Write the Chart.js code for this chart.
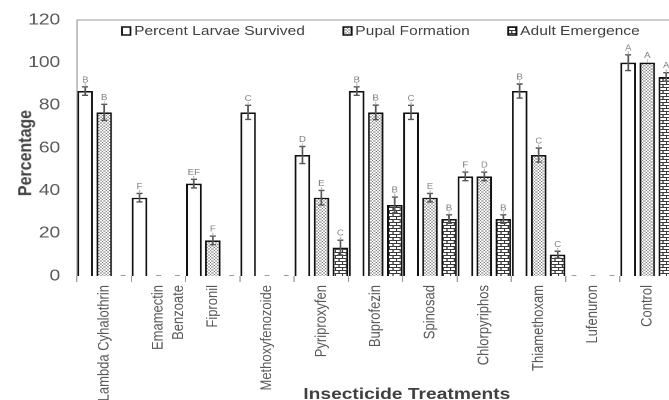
<!DOCTYPE html>
<html>
<head>
<meta charset="utf-8">
<script src="https://cdn.jsdelivr.net/npm/chart.js@4.4.0/dist/chart.umd.min.js"></script>
<style>
  html, body { margin: 0; padding: 0; background: #fff; overflow: hidden; }
  #wrap { width: 566px; height: 400px; transform: scaleX(1.2); transform-origin: 0 0; }
  #ytitle {
    position: absolute; left: 25px; top: 153px;
    font: bold 16px 'Liberation Sans', Arial, sans-serif; color: #404040;
    white-space: nowrap;
    transform: translate(-50%, -50%) scaleX(1.2) rotate(-90deg);
  }
</style>
</head>
<body>
<div id="wrap"><canvas id="chart"></canvas></div>
<div id="ytitle">Percentage</div>
<script>
const categories = [
  "Lambda Cyhalothrin", ["Emamectin", "Benzoate"], "Fipronil", "Methoxyfenozoide",
  "Pyriproxyfen", "Buprofezin", "Spinosad", "Chlorpyriphos", "Thiamethoxam",
  "Lufenuron", "Control"
];
const yTicks = [0, 20, 40, 60, 80, 100, 120];

const larvae = [86.7, 36.7, 43.3, 76.7, 56.7, 86.7, 76.7, 46.7, 86.7, 0, 100];
const pupal = [76.7, 0, 16.7, 0, 36.7, 76.7, 36.7, 46.7, 56.7, 0, 100];
const adult = [0, 0, 0, 0, 13.3, 33.3, 26.7, 26.7, 10, 0, 93.3];

const larvaeErr = [2, 2, 2, 3.3, 4, 2, 3.3, 2, 3.3, 0, 3.7];
const pupalErr = [3.8, 0, 2, 0, 3.4, 3.4, 2, 2, 3.3, 0, 0];
const adultErr = [0, 0, 0, 0, 3.5, 3.7, 2, 2, 1.6, 0, 2];

const larvaeLetters = ["B", "F", "EF", "C", "D", "B", "C", "F", "B", "", "A"];
const pupalLetters = ["B", "", "F", "", "E", "B", "E", "D", "C", "", "A"];
const adultLetters = ["", "", "", "", "C", "B", "B", "B", "C", "", "A"];

const FONT = "'Liberation Sans', Arial, sans-serif";

// fill patterns, drawn at double resolution
function makePattern(w, h, draw) {
  const c = document.createElement("canvas");
  c.width = w;
  c.height = h;
  const g = c.getContext("2d");
  g.fillStyle = "#fff";
  g.fillRect(0, 0, w, h);
  draw(g);
  const p = g.createPattern(c, "repeat");
  p.setTransform(new DOMMatrix().scale(0.5));
  return p;
}

const hatch = makePattern(6, 6, (g) => {
  g.fillStyle = "#7a7a7a";
  for (let i = 0; i < 6; i++) {
    g.fillRect(i, i, 1, 1);
    g.fillRect(5 - i, i, 1, 1);
  }
});

const brick = makePattern(12, 12, (g) => {
  g.fillStyle = "#3a3a3a";
  g.fillRect(0, 0, 12, 2);
  g.fillRect(0, 6, 12, 2);
  g.fillRect(0, 0, 2, 6);
  g.fillRect(6, 6, 2, 6);
});

const legendItems = [
  { label: "Percent Larvae Survived", fill: "#fff" },
  { label: "Pupal Formation", fill: hatch },
  { label: "Adult Emergence", fill: brick },
];

const extras = {
  id: "extras",
  afterDatasetsDraw(chart) {
    const ctx = chart.ctx;
    const area = chart.chartArea;
    const y = chart.scales.y;
    ctx.save();

    // plot frame (top + left)
    ctx.strokeStyle = "#9a9a9a";
    ctx.lineWidth = 1;
    ctx.beginPath();
    ctx.moveTo(area.left, area.bottom);
    ctx.lineTo(area.left, area.top);
    ctx.lineTo(area.right, area.top);
    ctx.stroke();

    chart.data.datasets.forEach((ds, di) => {
      const meta = chart.getDatasetMeta(di);
      meta.data.forEach((bar, i) => {
        const v = ds.data[i];
        if (v === 0) {
          // zero bars show as a short grey dash
          ctx.strokeStyle = "#9a9a9a";
          ctx.lineWidth = 1;
          ctx.beginPath();
          ctx.moveTo(bar.x - 2, area.bottom - 0.5);
          ctx.lineTo(bar.x + 2, area.bottom - 0.5);
          ctx.stroke();
          return;
        }
        const err = ds.errors[i];
        const top = y.getPixelForValue(v + err);
        const bot = y.getPixelForValue(v - err);
        if (err > 0) {
          ctx.strokeStyle = "#555";
          ctx.lineWidth = 1.4;
          ctx.beginPath();
          ctx.moveTo(bar.x, top);
          ctx.lineTo(bar.x, bot);
          ctx.moveTo(bar.x - 2.5, top);
          ctx.lineTo(bar.x + 2.5, top);
          ctx.moveTo(bar.x - 2.5, bot);
          ctx.lineTo(bar.x + 2.5, bot);
          ctx.stroke();
        }
        const letter = ds.letters[i];
        if (letter) {
          ctx.strokeStyle = "#b0b0b0";
          ctx.lineWidth = 0.8;
          ctx.beginPath();
          ctx.moveTo(bar.x, top);
          ctx.lineTo(bar.x, top - 3.5);
          ctx.stroke();
          ctx.fillStyle = "#808080";
          ctx.font = "8px " + FONT;
          ctx.textAlign = "center";
          ctx.textBaseline = "alphabetic";
          ctx.fillText(letter, bar.x, top - 4.5);
        }
      });
    });

    // legend inside plot
    ctx.font = "13px " + FONT;
    ctx.textAlign = "left";
    ctx.textBaseline = "middle";
    let lx = area.left + 37.5;
    const ly = area.top + 11;
    legendItems.forEach((item) => {
      ctx.fillStyle = item.fill;
      ctx.fillRect(lx, ly - 4, 7, 8);
      ctx.strokeStyle = "#111";
      ctx.lineWidth = 1.5;
      ctx.strokeRect(lx, ly - 4, 7, 8);
      ctx.fillStyle = "#404040";
      ctx.fillText(item.label, lx + 10, ly + 0.5);
      lx += 10 + ctx.measureText(item.label).width + 32;
    });

    // x axis title
    ctx.fillStyle = "#404040";
    ctx.font = "bold 16px " + FONT;
    ctx.textAlign = "center";
    ctx.textBaseline = "alphabetic";
    ctx.fillText("Insecticide Treatments", 339, 399);
    ctx.restore();
  },
};

const barBase = {
  borderColor: "#111",
  borderWidth: 1.6,
  borderSkipped: "bottom",
  categoryPercentage: 1.05,
  barPercentage: 0.82,
};

new Chart(document.getElementById("chart"), {
  type: "bar",
  data: {
    labels: categories,
    datasets: [
      { ...barBase, label: "Percent Larvae Survived", data: larvae, backgroundColor: "#fff", errors: larvaeErr, letters: larvaeLetters },
      { ...barBase, label: "Pupal Formation", data: pupal, backgroundColor: hatch, errors: pupalErr, letters: pupalLetters },
      { ...barBase, label: "Adult Emergence", data: adult, backgroundColor: brick, errors: adultErr, letters: adultLetters },
    ],
  },
  options: {
    responsive: true,
    maintainAspectRatio: false,
    devicePixelRatio: 2,
    animation: false,
    events: [],
    layout: { padding: { top: 20, left: 0, right: 4, bottom: 0 } },
    plugins: {
      legend: { display: false },
      tooltip: { enabled: false },
    },
    scales: {
      x: {
        offset: true,
        border: { display: false },
        grid: { display: true, drawOnChartArea: false, drawTicks: true, tickLength: 6, color: "#9a9a9a", offset: true },
        ticks: {
          autoSkip: false,
          minRotation: 90,
          maxRotation: 90,
          padding: 3,
          color: "#595959",
          font: { family: FONT, size: 13, lineHeight: 1.3 },
        },
        afterFit(scale) { scale.height = 124; },
      },
      y: {
        min: 0,
        max: 120,
        border: { display: false },
        grid: { display: false },
        afterBuildTicks(scale) { scale.ticks = yTicks.map((v) => ({ value: v })); },
        ticks: {
          padding: 6,
          color: "#595959",
          font: { family: FONT, size: 16 },
        },
        afterFit(scale) { scale.width = 64.2; },
      },
    },
  },
  plugins: [extras],
});
</script>
</body>
</html>
